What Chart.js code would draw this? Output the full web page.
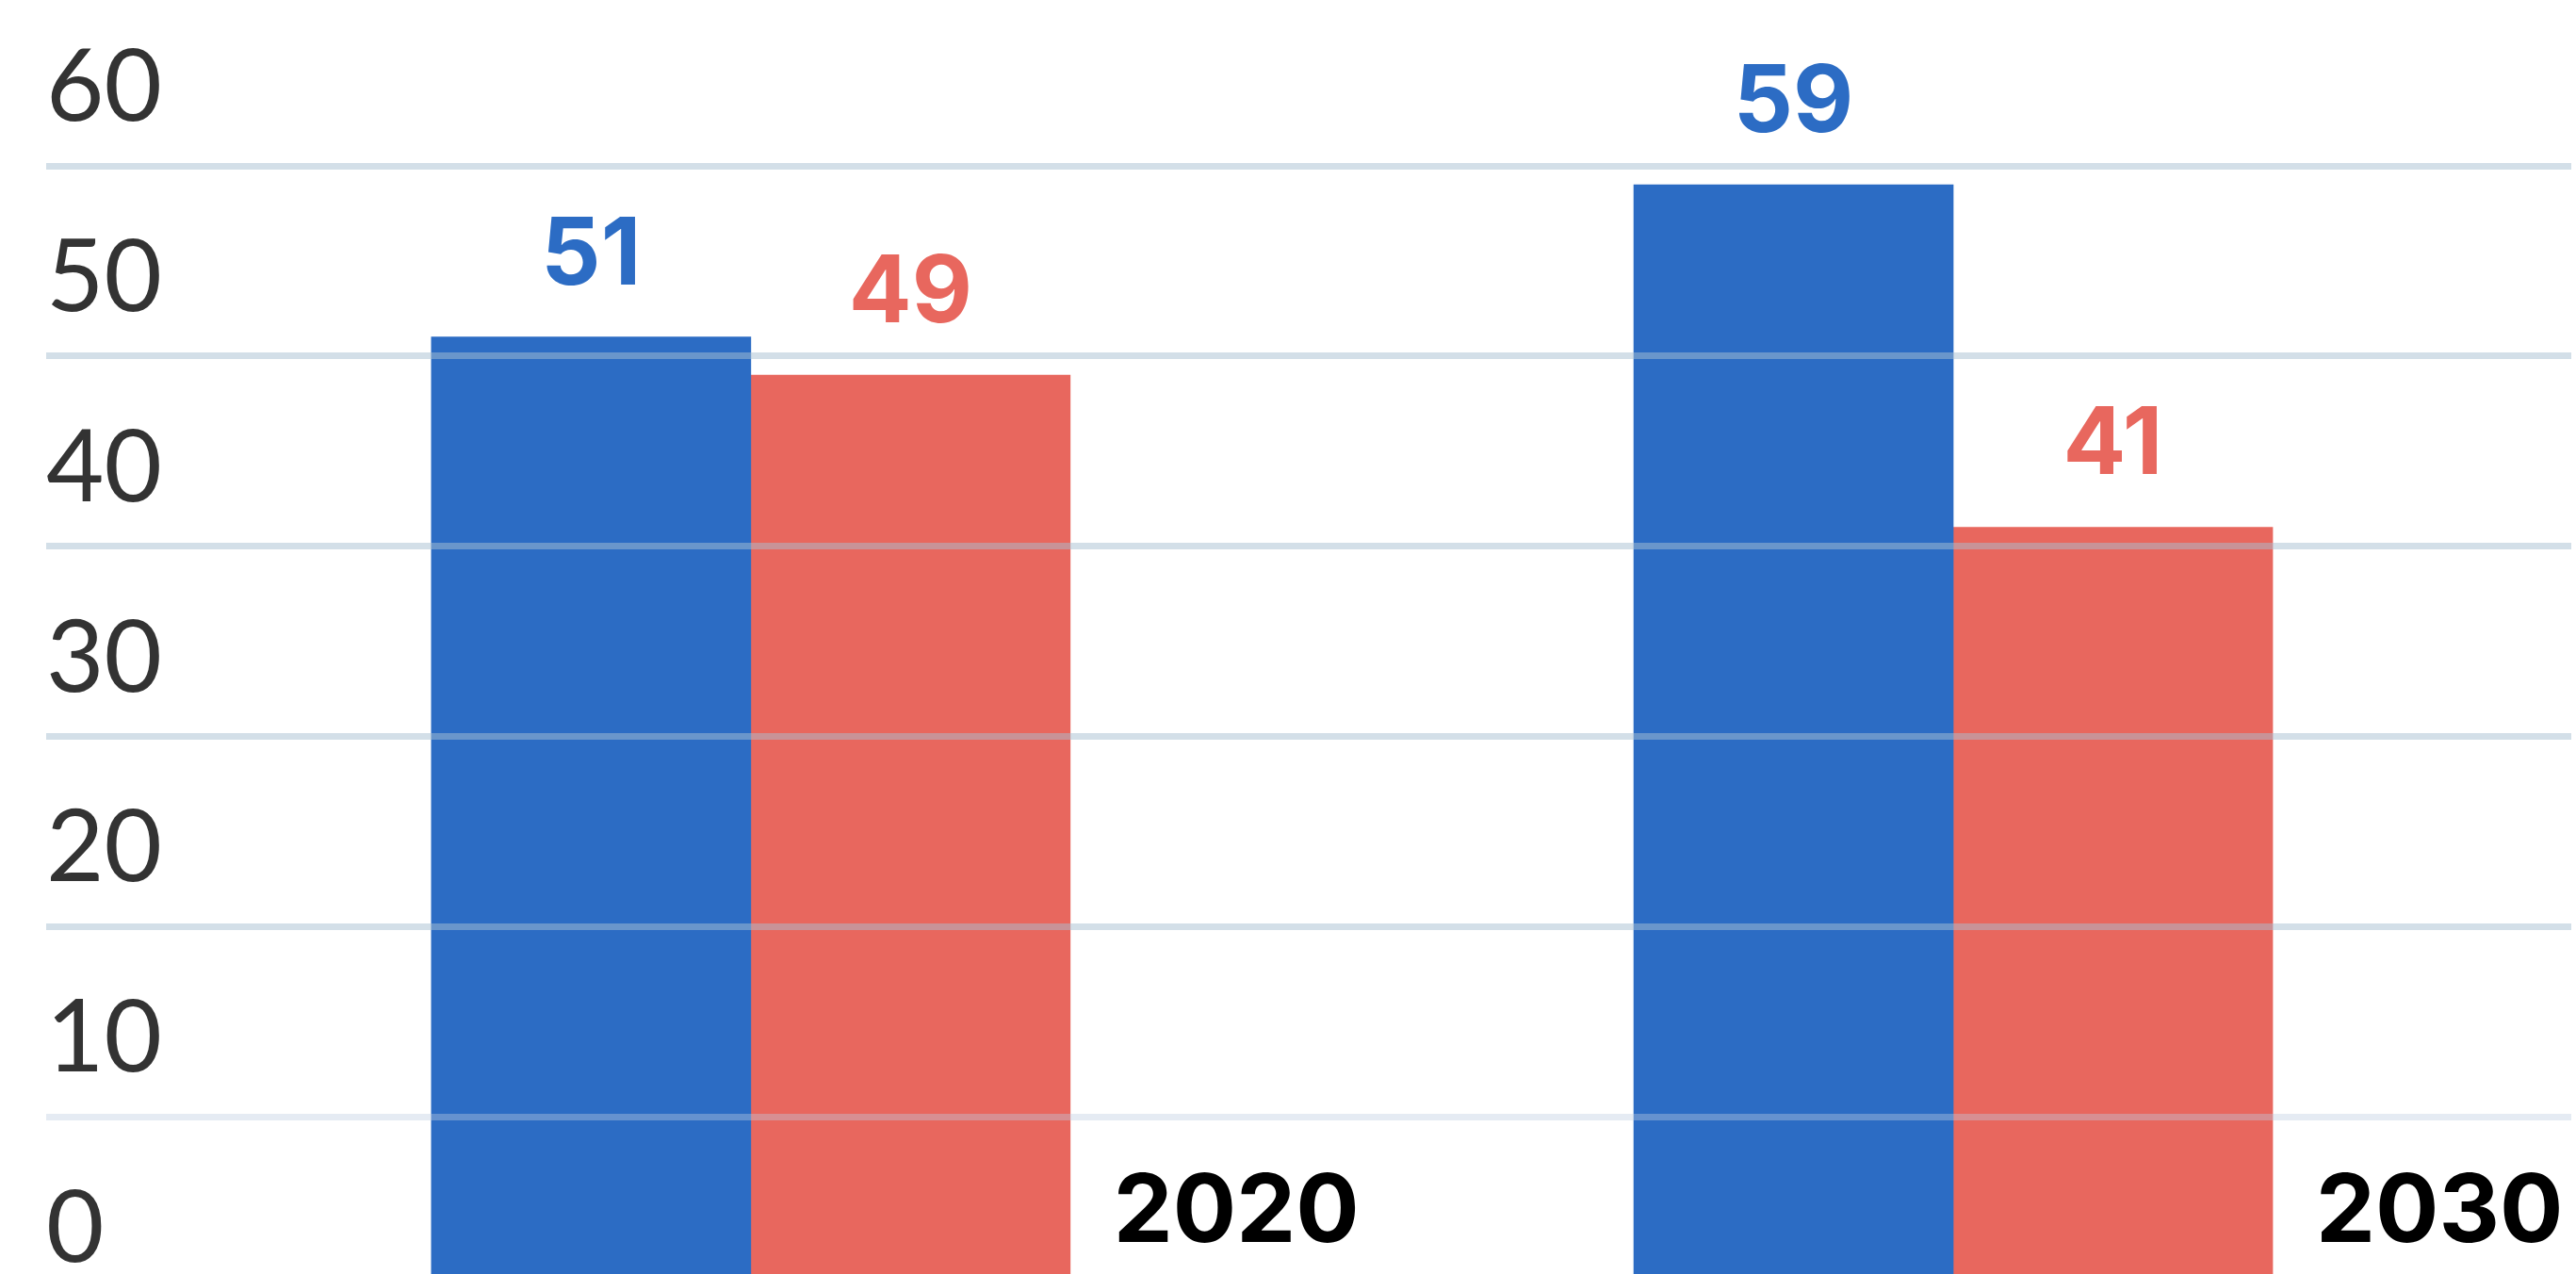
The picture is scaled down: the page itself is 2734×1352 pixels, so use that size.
<!DOCTYPE html>
<html>
<head>
<meta charset="utf-8">
<script src="https://cdn.jsdelivr.net/npm/chart.js@4.4.1/dist/chart.umd.min.js"></script>
<style>
  html, body { margin: 0; padding: 0; background: #fff; overflow: hidden; }
  canvas { display: block; }
</style>
</head>
<body>
<canvas id="myBarChart" width="2734" height="1352"></canvas>
<script>
var years = [2020, 2030];
var blueValues = [51, 59];
var redValues = [49, 41];
var yTicks = [0, 10, 20, 30, 40, 50, 60];

var blue = "#2c6cc4";
var red = "#e8675e";

function toPoints(values){
  return values.map(function(v, i){ return {x: years[i], y: v}; });
}

// value labels above bars + year labels at the right of each group
var labelsPlugin = {
  id: 'labels',
  afterDatasetsDraw: function(chart){
    var ctx = chart.ctx;
    ctx.save();
    ctx.textAlign = 'center';
    ctx.textBaseline = 'alphabetic';
    ctx.font = '700 99px Inter';
    chart.data.datasets.forEach(function(ds, di){
      var meta = chart.getDatasetMeta(di);
      ctx.fillStyle = ds.backgroundColor;
      meta.data.forEach(function(bar, i){
        ctx.fillText(ds.data[i].y, bar.x, bar.y - 56);
      });
    });
    var last = chart.getDatasetMeta(chart.data.datasets.length - 1);
    ctx.fillStyle = '#000';
    ctx.textAlign = 'left';
    ctx.font = '700 100px Inter';
    last.data.forEach(function(bar, i){
      ctx.fillText(String(years[i]), bar.x + bar.width / 2 + 46, chart.chartArea.bottom - 34);
    });
    ctx.restore();
  }
};

var ctx = document.getElementById("myBarChart");
var myBarChart = new Chart(ctx, {
  type: 'bar',
  data: {
    datasets: [{
      data: toPoints(blueValues),
      backgroundColor: blue,
      barThickness: 339
    }, {
      data: toPoints(redValues),
      backgroundColor: red,
      barThickness: 339
    }]
  },
  options: {
    responsive: false,
    animation: false,
    devicePixelRatio: 1,
    layout: {
      autoPadding: false,
      padding: {left: 49, right: 5, top: 176, bottom: 0}
    },
    plugins: {
      legend: {display: false},
      tooltip: {enabled: false}
    },
    scales: {
      x: {
        type: 'linear',
        display: false,
        offset: false,
        min: 2014.14,
        max: 2035.14
      },
      y: {
        min: 1.73,
        max: 60,
        afterBuildTicks: function(scale){
          scale.ticks = yTicks.map(function(v){ return {value: v}; });
        },
        border: {display: false},
        grid: {
          z: 1,
          drawTicks: false,
          tickLength: 0,
          lineWidth: 7,
          color: function(c){
            return c.tick && c.tick.value === 10 ? 'rgba(190,205,225,0.4)' : 'rgba(168,191,209,0.5)';
          }
        },
        ticks: {
          mirror: true,
          padding: 0,
          labelOffset: -82,
          autoSkip: false,
          color: '#333',
          font: {family: 'Lato', size: 106, lineHeight: 0}
        }
      }
    }
  },
  plugins: [labelsPlugin]
});
</script>
</body>
</html>
